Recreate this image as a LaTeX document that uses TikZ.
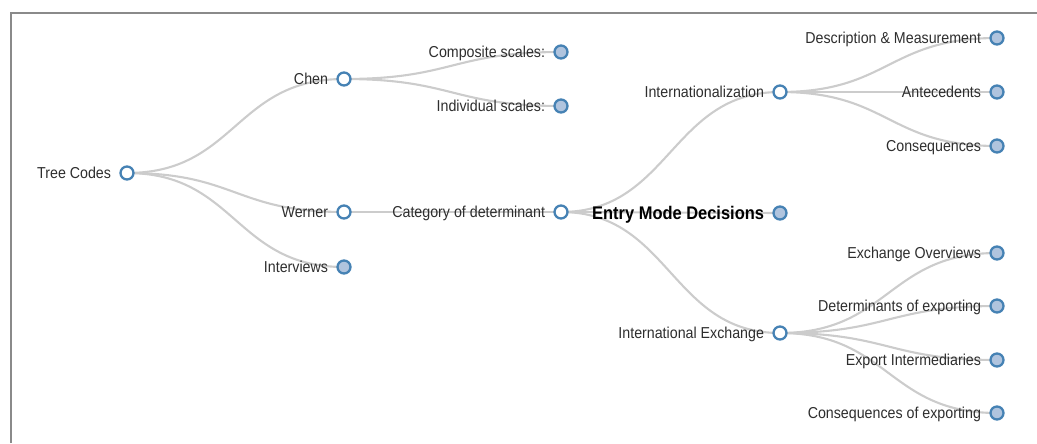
\documentclass[tikz,border=0pt]{standalone}
\usepackage{fontspec}
\setmainfont{Liberation Sans}
\newfontfamily\treefont[FakeStretch=0.9]{Liberation Sans}
\usepackage{tikz}
\usetikzlibrary{positioning,backgrounds}
\definecolor{treeblue}{HTML}{4682B4}
\definecolor{treefill}{HTML}{B0C4DE}
\definecolor{treelink}{HTML}{CCCCCC}
\definecolor{treetext}{HTML}{2E2E2E}
\definecolor{treeframe}{HTML}{8A8A8A}
\tikzset{
  branch/.style={circle,draw=treeblue,fill=white,line width=1.3pt,minimum size=0.26cm,inner sep=0pt},
  leaf/.style={branch,fill=treefill},
  tag/.style={inner sep=0pt,text=treetext,font=\treefont\fontsize{9}{11}\selectfont,text height=7.6pt,text depth=1.3pt},
  bigtag/.style={inner sep=0pt,text=black,font=\treefont\bfseries\fontsize{10.4}{12}\selectfont,text height=8.8pt,text depth=1.5pt},
  link/.style={draw=treelink,line width=1.2pt,out=0,in=180,distance=2.18cm}
}
\begin{document}
\begin{tikzpicture}[x=0.02cm,y=-0.02cm,node distance=0.16cm]
\useasboundingbox (0,0) rectangle (1037,443);
\draw[treeframe,line width=0.9pt] (11,443) |- (1037,13);
\node[branch] (tree) at (127,173) {};
\node[branch] (chen) at (344,79) {};
\node[branch] (werner) at (344,212) {};
\node[leaf] (interviews) at (344,267) {};
\node[leaf] (composite) at (561,52) {};
\node[leaf] (individual) at (561,106) {};
\node[branch] (category) at (561,212) {};
\node[branch] (intl) at (780,92) {};
\node[leaf] (entry) at (780,213) {};
\node[branch] (exch) at (780,333) {};
\node[leaf] (descr) at (997,38) {};
\node[leaf] (antec) at (997,92) {};
\node[leaf] (conseq) at (997,146) {};
\node[leaf] (overview) at (997,253) {};
\node[leaf] (determ) at (997,306) {};
\node[leaf] (intermed) at (997,360) {};
\node[leaf] (exconseq) at (997,413) {};
\node[tag,left=of tree] (tree-t) {Tree Codes};
\node[tag,left=of chen] (chen-t) {Chen};
\node[tag,left=of werner] (werner-t) {Werner};
\node[tag,left=of interviews] (interviews-t) {Interviews};
\node[tag,left=of composite] (composite-t) {Composite scales:};
\node[tag,left=of individual] (individual-t) {Individual scales:};
\node[tag,left=of category] (category-t) {Category of determinant};
\node[tag,left=of intl] (intl-t) {Internationalization};
\node[bigtag,left=of entry] (entry-t) {Entry Mode Decisions};
\node[tag,left=of exch] (exch-t) {International Exchange};
\node[tag,left=of descr] (descr-t) {Description \& Measurement};
\node[tag,left=of antec] (antec-t) {Antecedents};
\node[tag,left=of conseq] (conseq-t) {Consequences};
\node[tag,left=of overview] (overview-t) {Exchange Overviews};
\node[tag,left=of determ] (determ-t) {Determinants of exporting};
\node[tag,left=of intermed] (intermed-t) {Export Intermediaries};
\node[tag,left=of exconseq] (exconseq-t) {Consequences of exporting};
\begin{scope}[on background layer]
\draw[link] (tree.center) to (chen.center);
\draw[link] (tree.center) to (werner.center);
\draw[link] (tree.center) to (interviews.center);
\draw[link] (chen.center) to (composite.center);
\draw[link] (chen.center) to (individual.center);
\draw[link] (werner.center) to (category.center);
\draw[link] (category.center) to (intl.center);
\draw[link] (category.center) to (entry.center);
\draw[link] (category.center) to (exch.center);
\draw[link] (intl.center) to (descr.center);
\draw[link] (intl.center) to (antec.center);
\draw[link] (intl.center) to (conseq.center);
\draw[link] (exch.center) to (overview.center);
\draw[link] (exch.center) to (determ.center);
\draw[link] (exch.center) to (intermed.center);
\draw[link] (exch.center) to (exconseq.center);
\end{scope}
\end{tikzpicture}
\end{document}
